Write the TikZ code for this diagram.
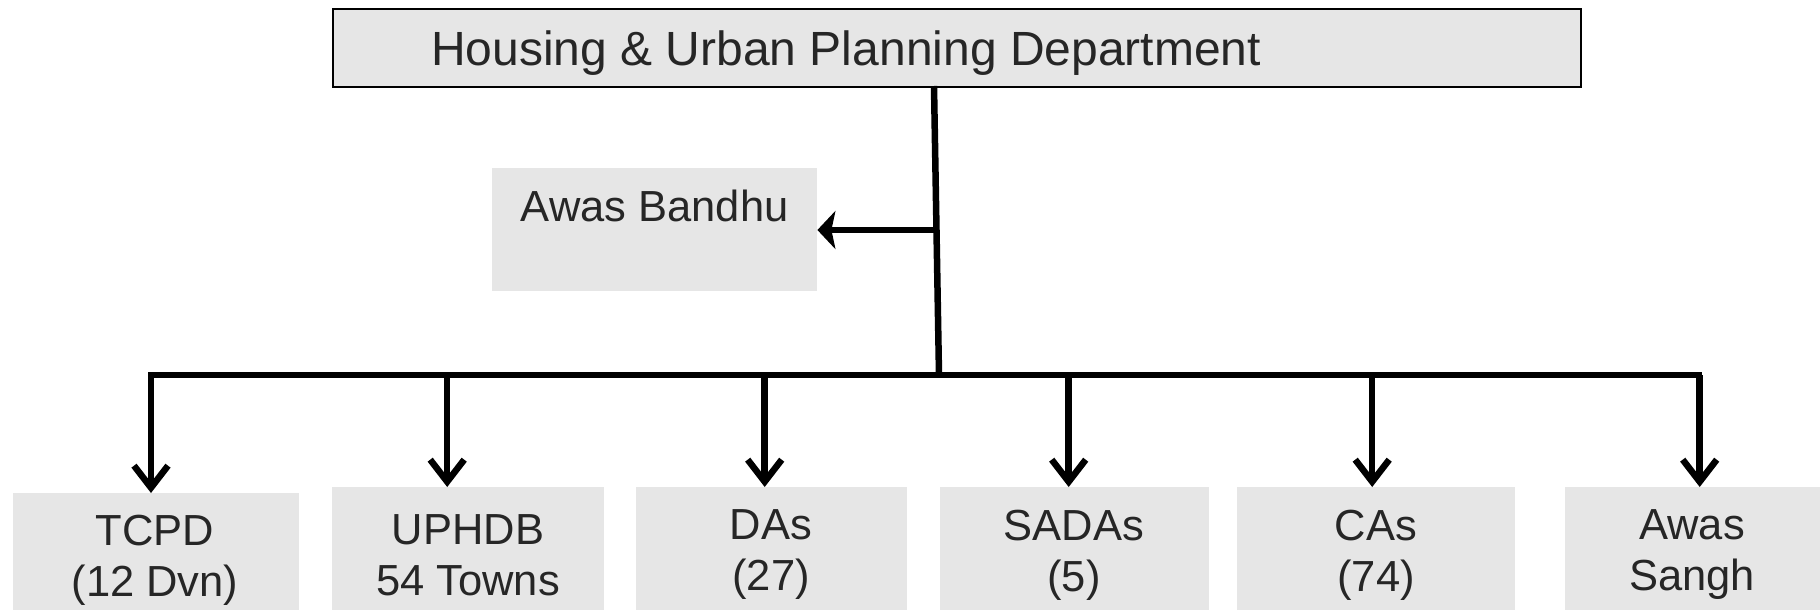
\documentclass[tikz,border=0pt]{standalone}
\usepackage{fontspec}
\setmainfont{Liberation Sans}
\usetikzlibrary{arrows.meta}
\definecolor{boxgray}{HTML}{E6E6E6}
\definecolor{txt}{HTML}{262626}
\begin{document}
\begin{tikzpicture}[x=1pt,y=-1pt,
  conn/.style={line width=6.5pt, black},
  downarr/.style={conn, -{Straight Barb[length=22pt,width=34pt]}},
  leftarr/.style={conn, -{Stealth[length=18pt,width=38pt,inset=4pt]}},
  graybox/.style={fill=boxgray, inner sep=0pt, anchor=north west},
  label/.style={text=txt, inner sep=0pt, align=center, font=\fontsize{43.5}{51}\selectfont},
  toplabel/.style={text=txt, inner sep=0pt, font=\fontsize{48}{55}\selectfont}
]
\useasboundingbox (0,0) rectangle (1820,610);
% top box
\node[graybox, draw=black, line width=2pt, minimum width=1248pt, minimum height=78pt] (top) at (332,8) {};
\node[toplabel, anchor=west] (toptxt) at (431,53) {Housing \& Urban Planning Department};
% Awas Bandhu
\node[graybox, minimum width=325pt, minimum height=123pt] (ab) at (492,168) {};
\node[label] (abt) at ([yshift=24pt]ab.center) {Awas Bandhu};
% bottom boxes
\node[graybox, minimum width=286pt, minimum height=117pt] (tcpd) at (13,493) {};
\node[graybox, minimum width=272pt, minimum height=123pt] (uphdb) at (332,487) {};
\node[graybox, minimum width=271pt, minimum height=123pt] (das) at (636,487) {};
\node[graybox, minimum width=269pt, minimum height=123pt] (sadas) at (940,487) {};
\node[graybox, minimum width=278pt, minimum height=123pt] (cas) at (1237,487) {};
\node[graybox, minimum width=255pt, minimum height=123pt] (sangh) at (1565,487) {};
\node[label] (tcpdt) at (155,560) {TCPD\\(12 Dvn)};
\node[label] (uphdbt) at (468,555) {UPHDB\\54 Towns};
\node[label] (dast) at (771,555) {DAs\\(27)};
\node[label] (sadast) at (1074,555) {SADAs\\(5)};
\node[label] (cast) at (1376,555) {CAs\\(74)};
\node[label] (sanght) at (1692,555) {Awas\\Sangh};
% connectors
\coordinate (t0) at (934,86);
\coordinate (j) at (936,230);
\coordinate (bus) at (939,375);
\coordinate (busL) at (148,375);
\coordinate (busR) at (1702,375);
\draw[conn] (t0) -- (bus);
\draw[leftarr] (j) -- (ab.east |- j);
\draw[conn] (busL) -- (busR);
\draw[downarr] (151,375) -- (151,493);
\draw[downarr] ([xshift=-21pt]uphdb.north |- bus) -- ([xshift=-21pt]uphdb.north);
\draw[downarr] ([xshift=-7pt]das.north |- bus) -- ([xshift=-7pt]das.north);
\draw[downarr] ([xshift=-6pt]sadas.north |- bus) -- ([xshift=-6pt]sadas.north);
\draw[downarr] ([xshift=-4pt]cas.north |- bus) -- ([xshift=-4pt]cas.north);
\draw[downarr] ([xshift=7pt]sangh.north |- bus) -- ([xshift=7pt]sangh.north);
\end{tikzpicture}
\end{document}
